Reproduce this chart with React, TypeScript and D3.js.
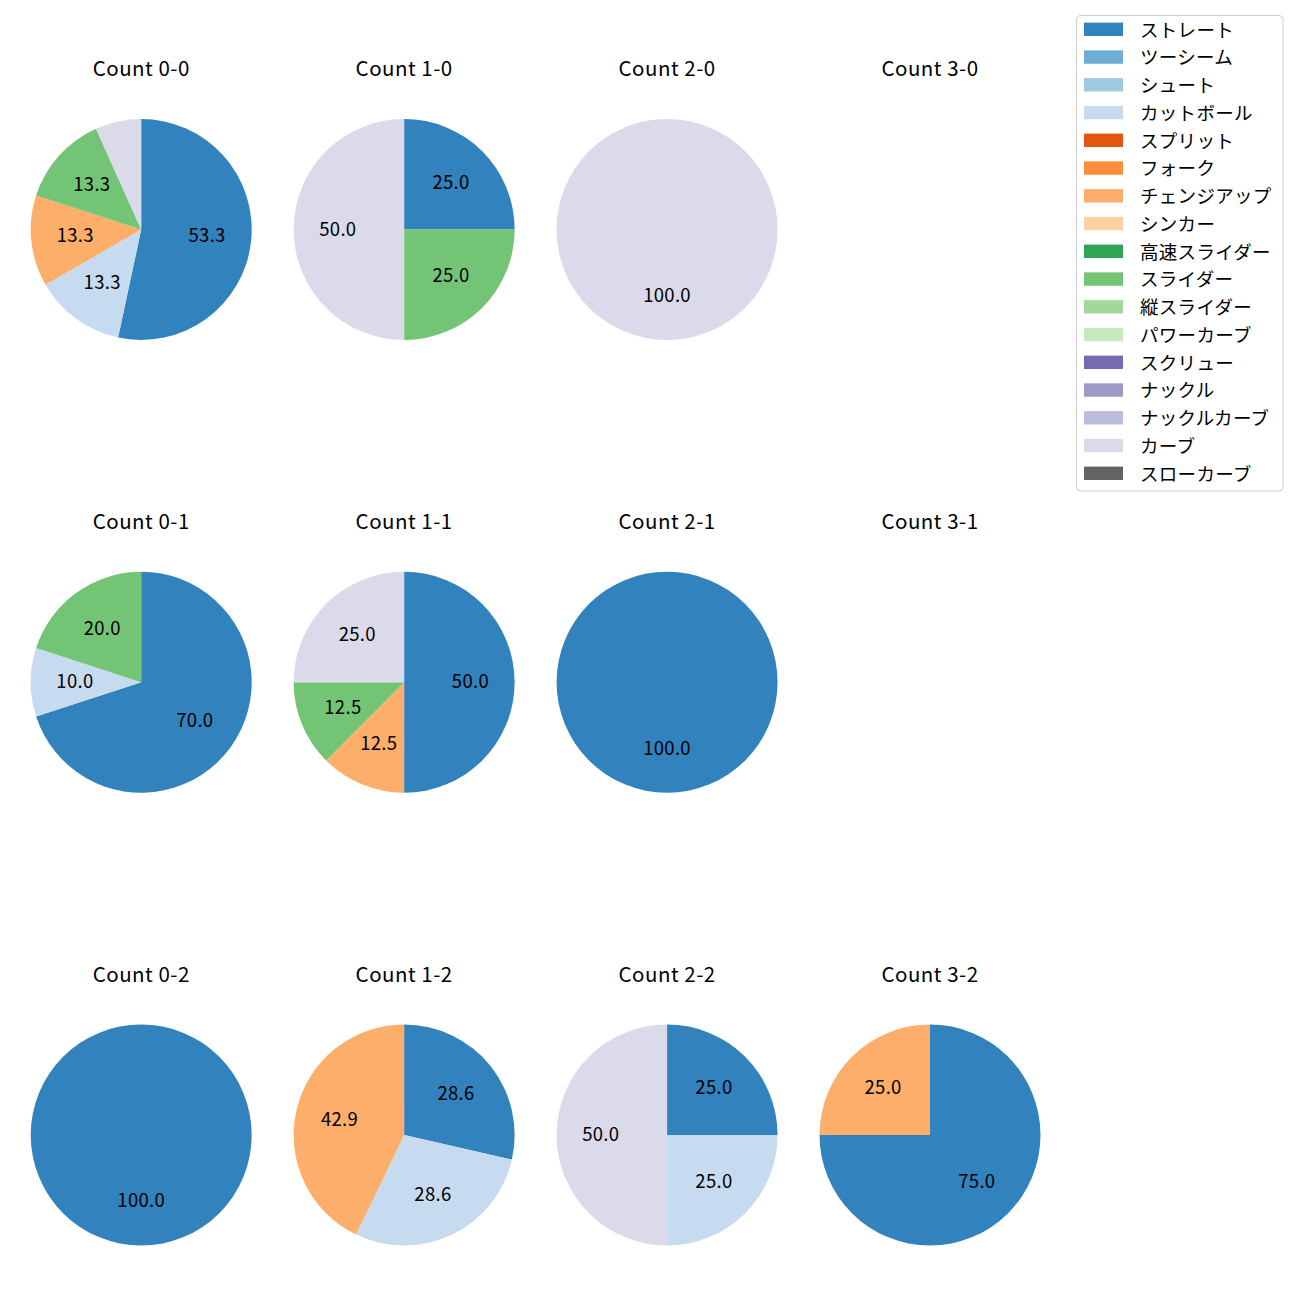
import React from "react";
import * as d3 from "d3";

const pitchTypes = [
  "ストレート", "ツーシーム", "シュート", "カットボール", "スプリット", "フォーク",
  "チェンジアップ", "シンカー", "高速スライダー", "スライダー", "縦スライダー",
  "パワーカーブ", "スクリュー", "ナックル", "ナックルカーブ", "カーブ", "スローカーブ",
];
const pitchColors = [
  "#3182bd", "#6baed6", "#9ecae1", "#c6dbef", "#e6550d", "#fd8d3c",
  "#fdae6b", "#fdd0a2", "#31a354", "#74c476", "#a1d99b", "#c7e9c0",
  "#756bb1", "#9e9ac8", "#bcbddc", "#dadaeb", "#636363",
];

const countTitles = [
  ["Count 0-0", "Count 1-0", "Count 2-0", "Count 3-0"],
  ["Count 0-1", "Count 1-1", "Count 2-1", "Count 3-1"],
  ["Count 0-2", "Count 1-2", "Count 2-2", "Count 3-2"],
];

// values per count: [pitch type, percent]
const count00 = [["ストレート", 53.3], ["カットボール", 13.3], ["チェンジアップ", 13.3], ["スライダー", 13.3], ["カーブ", 6.7]];
const count10 = [["ストレート", 25.0], ["スライダー", 25.0], ["カーブ", 50.0]];
const count20 = [["カーブ", 100.0]];
const count30: [string, number][] = [];
const count01 = [["ストレート", 70.0], ["カットボール", 10.0], ["スライダー", 20.0]];
const count11 = [["ストレート", 50.0], ["チェンジアップ", 12.5], ["スライダー", 12.5], ["カーブ", 25.0]];
const count21 = [["ストレート", 100.0]];
const count31: [string, number][] = [];
const count02 = [["ストレート", 100.0]];
const count12 = [["ストレート", 28.6], ["カットボール", 28.6], ["チェンジアップ", 42.9]];
const count22 = [["ストレート", 25.0], ["カットボール", 25.0], ["カーブ", 50.0]];
const count32 = [["ストレート", 75.0], ["チェンジアップ", 25.0]];

const countData = [
  [count00, count10, count20, count30],
  [count01, count11, count21, count31],
  [count02, count12, count22, count32],
] as [string, number][][][];

const FONT = "'Noto Sans CJK JP', 'Noto Sans', sans-serif";

export default function App() {
  const colX = d3.scaleLinear().domain([0, 3]).range([141.2, 930]);
  const rowY = d3.scaleLinear().domain([0, 2]).range([229.5, 1135]);
  const R = 110.5;
  const color = d3.scaleOrdinal<string, string>().domain(pitchTypes).range(pitchColors);
  const pie = d3
    .pie<[string, number]>()
    .value((d) => d[1])
    .sort(null)
    .startAngle(0)
    .endAngle(2 * Math.PI);
  const arc = d3.arc<d3.PieArcDatum<[string, number]>>().innerRadius(0).outerRadius(R);
  const labelArc = d3.arc<d3.PieArcDatum<[string, number]>>().innerRadius(R * 0.6).outerRadius(R * 0.6);

  const legendY = d3.scaleLinear().domain([0, 1]).range([29.3, 29.3 + 27.75]);

  return (
    <svg width={1300} height={1300} style={{ position: "absolute", left: 0, top: 0, background: "#fff" }} fontFamily={FONT}>
      <rect x={0} y={0} width={1300} height={1300} fill="#fff" />
      {countData.map((row, ri) =>
        row.map((data, ci) => {
          const cx = colX(ci);
          const cy = rowY(ri);
          const arcs = pie(data);
          return (
            <g key={`${ri}-${ci}`}>
              <text x={cx} y={cy - 153.5} textAnchor="middle" fontSize={20.5} letterSpacing={0.5} fill="#000">
                {countTitles[ri][ci]}
              </text>
              <g transform={`translate(${cx},${cy})`}>
                {arcs.map((a, i) => (
                  <path key={i} d={arc(a) || ""} fill={color(a.data[0])} />
                ))}
                {arcs.map((a, i) => {
                  if (a.data[1] < 8) return null;
                  const [lx, ly] = labelArc.centroid(a);
                  return (
                    <text key={"t" + i} x={lx} y={ly - 2} textAnchor="middle" dominantBaseline="central" fontSize={18.5} letterSpacing={0.3} fill="#000">
                      {a.data[1].toFixed(1)}
                    </text>
                  );
                })}
              </g>
            </g>
          );
        })
      )}
      <g>
        <rect x={1076.5} y={15.5} width={206.5} height={475.5} rx={4} fill="#fff" fillOpacity={0.8} stroke="#cccccc" strokeWidth={1} />
        {pitchTypes.map((p, i) => (
          <g key={p}>
            <rect x={1084} y={legendY(i) - 6.7} width={39} height={13.4} fill={color(p)} />
            <text x={1140} y={legendY(i) - 0.8} dominantBaseline="central" fontSize={18.5} letterSpacing={0.3} fill="#000">
              {p}
            </text>
          </g>
        ))}
      </g>
    </svg>
  );
}
